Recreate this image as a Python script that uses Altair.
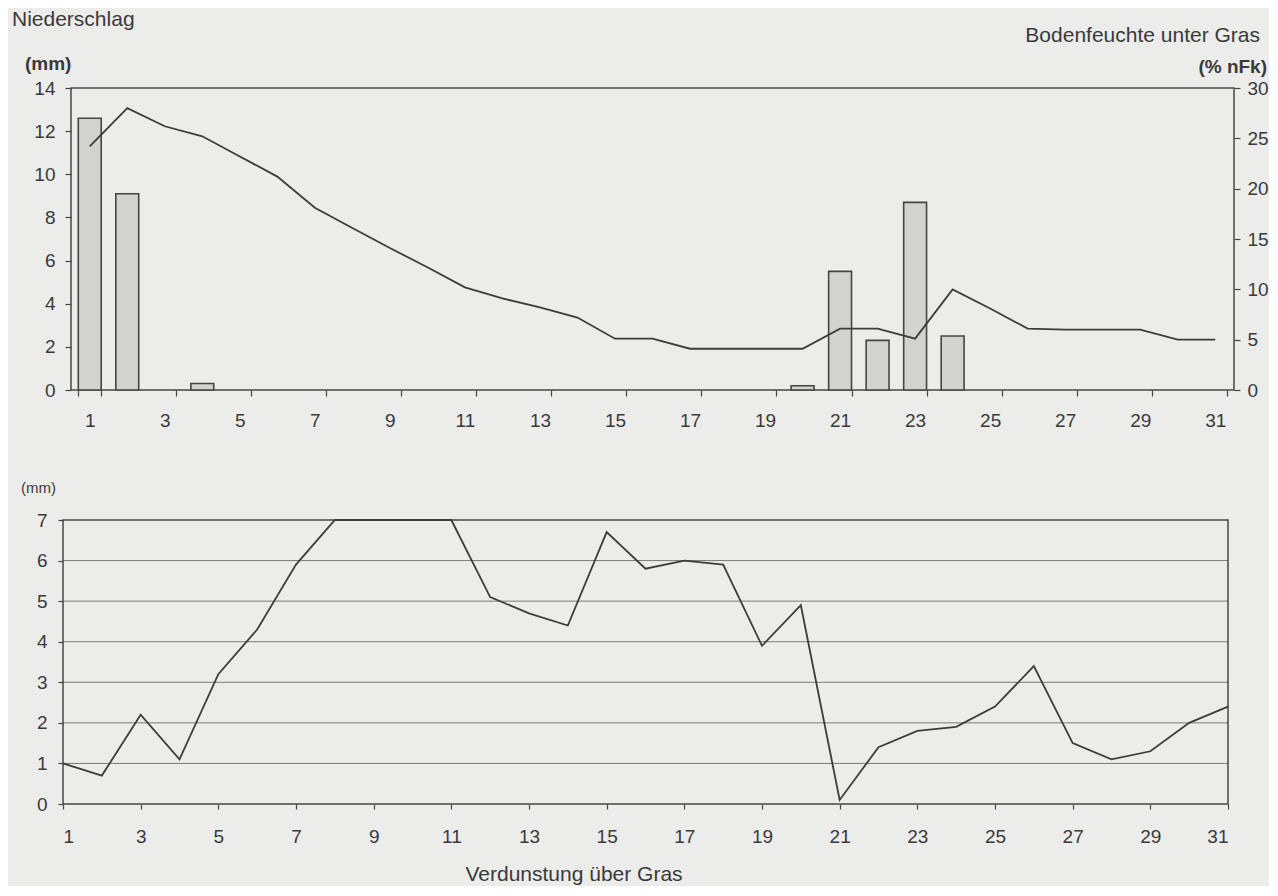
import altair as alt
import pandas as pd

# ---- data ----
days = list(range(1, 32))
odd_days = days[::2]

# Niederschlag (mm), daily bars
niederschlag = [12.6, 9.1, 0.0, 0.3, 0.0, 0.0, 0.0, 0.0, 0.0, 0.0,
                0.0, 0.0, 0.0, 0.0, 0.0, 0.0, 0.0, 0.0, 0.0, 0.2,
                5.5, 2.3, 8.7, 2.5, 0.0, 0.0, 0.0, 0.0, 0.0, 0.0, 0.0]
# Bodenfeuchte unter Gras (% nFk), line on right axis
bodenfeuchte = [24.2, 28.0, 26.2, 25.2, 23.2, 21.2, 18.1, 16.1, 14.1, 12.2,
                10.2, 9.1, 8.2, 7.2, 5.1, 5.1, 4.1, 4.1, 4.1, 4.1,
                6.1, 6.1, 5.1, 10.0, 8.1, 6.1, 6.0, 6.0, 6.0, 5.0, 5.0]
# Verdunstung ueber Gras (mm)
verdunstung = [1.0, 0.7, 2.2, 1.1, 3.2, 4.3, 5.9, 7.0, 7.0, 7.0,
               7.0, 5.1, 4.7, 4.4, 6.7, 5.8, 6.0, 5.9, 3.9, 4.9,
               0.1, 1.4, 1.8, 1.9, 2.4, 3.4, 1.5, 1.1, 1.3, 2.0, 2.4]

left_ticks_top = list(range(0, 15, 2))
right_ticks_top = list(range(0, 31, 5))
ticks_bottom = list(range(0, 8))
grid_bottom = list(range(1, 7))

txt_nieder = "Niederschlag"
txt_mm_bold = "(mm)"
txt_boden = "Bodenfeuchte unter Gras"
txt_nfk = "(% nFk)"
txt_mm = "(mm)"
txt_verd = "Verdunstung über Gras"

df = pd.DataFrame({"day": days, "n": niederschlag, "b": bodenfeuchte, "v": verdunstung})
df_grid = pd.DataFrame({"v": grid_bottom})

FONT = "Liberation Sans"
INK = "#3a3a3a"
LINE = "#3c3c3c"
FRAME = "#454545"

W1, H1 = 1163, 302
W2, H2 = 1157, 284
X2_LEFT = -8  # bottom panel starts 8px left of the top panel


def label(text, x, y, size=21, weight="normal", align="left"):
    return alt.Chart(pd.DataFrame({"t": [text]})).mark_text(
        font=FONT, fontSize=size, fontWeight=weight, color=INK,
        align=align, baseline="alphabetic"
    ).encode(text="t:N", x=alt.value(x), y=alt.value(y))


# ---------------- top panel ----------------
xband = alt.X(
    "day:O",
    scale=alt.Scale(domain=days, paddingInner=0.39, paddingOuter=0.195),
    axis=alt.Axis(values=odd_days, title=None, labelAngle=0, tickBand="extent",
                  tickSize=6, labelPadding=15, domain=False),
)

bars = alt.Chart(df).transform_filter("datum.n > 0").mark_bar(
    fill="#d2d2cf", stroke=FRAME, strokeWidth=1.6
).encode(
    x=xband,
    y=alt.Y("n:Q", scale=alt.Scale(domain=[0, 14], nice=False),
            axis=alt.Axis(values=left_ticks_top, title=None, tickSize=6,
                          labelPadding=10, domain=False, grid=False)),
)

soil = alt.Chart(df).mark_line(color=LINE, strokeWidth=1.8).encode(
    x=alt.X("day:O", scale=alt.Scale(domain=days)),
    y=alt.Y("b:Q", scale=alt.Scale(domain=[0, 30], nice=False),
            axis=alt.Axis(orient="right", values=right_ticks_top, title=None,
                          tickSize=6, labelPadding=7, domain=False, grid=False)),
)

top = alt.layer(
    bars, soil,
    label(txt_nieder, -59, -62),
    label(txt_mm_bold, -46, -18, size=19, weight="bold"),
    label(txt_boden, 1189, -46, align="right"),
    label(txt_nfk, 1196, -15, size=19, weight="bold", align="right"),
).resolve_scale(y="independent").properties(width=W1, height=H1)

# ---------------- bottom panel ----------------
xq = alt.X("day:Q", scale=alt.Scale(domain=[1, 31], nice=False, zero=False,
                                     range=[X2_LEFT, W2]),
           axis=alt.Axis(values=odd_days, title=None, tickSize=5, labelPadding=18,
                         domain=False, grid=False))
yq = alt.Y("v:Q", scale=alt.Scale(domain=[0, 7], nice=False),
           axis=alt.Axis(values=ticks_bottom, title=None, tickSize=5, labelPadding=11,
                         domain=False, grid=False, offset=-X2_LEFT))

grid = alt.Chart(df_grid).mark_rule(color="#7a7a7a", strokeWidth=1).encode(
    y=yq, x=alt.value(X2_LEFT), x2=alt.value(W2)
)

frame = alt.Chart(pd.DataFrame({"f": [0]})).mark_rect(
    fill="transparent", stroke=FRAME, strokeWidth=1.5
).encode(x=alt.value(X2_LEFT), x2=alt.value(W2), y=alt.value(0), y2=alt.value(H2))

evap = alt.Chart(df).mark_line(color=LINE, strokeWidth=1.8).encode(x=xq, y=yq)

bottom = alt.layer(
    grid, frame, evap,
    label(txt_mm, -50, -27, size=15),
    label(txt_verd, 503, 361, align="center"),
).properties(width=W2, height=H2, view=alt.ViewBackground(stroke="transparent"))

chart = alt.vconcat(top, bottom, spacing=49).properties(
    background="#ececea",
    padding={"left": 3, "top": 0, "right": 0, "bottom": 0},
).configure_view(
    stroke=FRAME, strokeWidth=1.5
).configure_axis(
    labelFont=FONT, labelFontSize=19, labelColor=INK, tickColor=FRAME,
    tickWidth=1.2,
)

chart.save("out.html", embed_options={"renderer": "svg", "actions": False})
